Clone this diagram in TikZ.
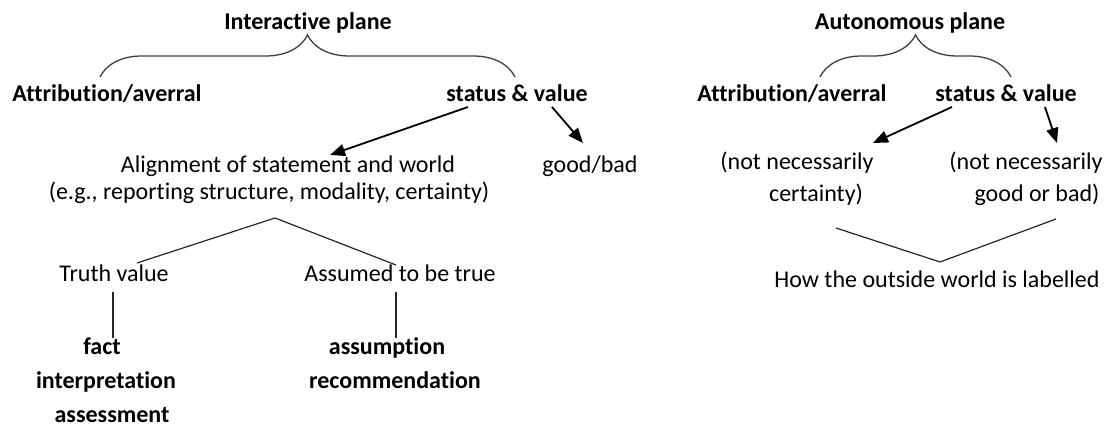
\documentclass[tikz,border=0pt]{standalone}
\usepackage{fontspec}
\setmainfont{Carlito}[Ligatures=NoCommon]
\usetikzlibrary{arrows.meta,decorations.pathreplacing}
\tikzset{
  txt/.style={inner sep=0pt,anchor=base,font=\fontsize{24pt}{28pt}\selectfont},
  bold/.style={txt,font=\fontsize{24pt}{28pt}\selectfont\bfseries},
  arr/.style={-{Triangle[length=15pt,width=12pt]},line width=1.8pt},
  ln/.style={line width=1.2pt,black!85},
  brc/.style={decorate,decoration={brace,amplitude=42pt,aspect=0.5},line width=1.3pt,black!75}
}
\begin{document}
\begin{tikzpicture}[x=1pt,y=1pt]
\useasboundingbox (0,0) rectangle (1107,427);
%interactive plane
\node[bold] (ip) at (308,397) {Interactive plane};
\node[bold] (at1) at (107,325) {Attribution/averral};
\node[bold] (sv1) at (517,325) {status \& value};
\draw[brc] ([shift={(-7,25)}]at1.base) -- ([shift={(-2,25)}]sv1.base);
\node[txt] (al) at (288,254) {Alignment of statement and world};
\node[txt] (eg) at (269,227) {(e.g., reporting structure, modality, certainty)};
\node[txt] (gb) at (590,254) {good/bad};
\draw[arr] ([shift={(-49,-5)}]sv1.base) -- ([shift={(42,18)}]al.base);
\draw[arr] ([shift={(35,-5)}]sv1.base) -- ([shift={(-7,30)}]gb.base);
%truth / assumed
\node[txt] (tv) at (114,145) {Truth value};
\node[txt] (as) at (400,145) {Assumed to be true};
\draw[ln] ([shift={(23,19)}]tv.base) -- ([shift={(6,-18)}]eg.base) -- ([shift={(-4,17)}]as.base);
\node[bold] (fa) at (102,72) {fact};
\node[bold] (in) at (106,38) {interpretation};
\node[bold] (ass) at (112,4) {assessment};
\node[bold] (au) at (387,72) {assumption};
\node[bold] (re) at (395,38) {recommendation};
\draw[ln] ([shift={(-1,-10)}]tv.base) -- ([shift={(11,17)}]fa.base);
\draw[ln] ([shift={(-4,-10)}]as.base) -- ([shift={(9,17)}]au.base);
%autonomous plane
\node[bold] (ap) at (910,397) {Autonomous plane};
\node[bold] (at2) at (792,325) {Attribution/averral};
\node[bold] (sv2) at (1006,325) {status \& value};
\draw[brc] ([shift={(28,25)}]at2.base) -- ([shift={(5,25)}]sv2.base);
\node[txt] (nn1) at (797,257) {(not necessarily};
\node[txt] (ce) at (816,225) {certainty)};
\node[txt] (nn2) at (1026,257) {(not necessarily};
\node[txt] (gob) at (1037,225) {good or bad)};
\draw[arr] ([shift={(-54,-5)}]sv2.base) -- ([shift={(76,27)}]nn1.base);
\draw[arr] ([shift={(39,-5)}]sv2.base) -- ([shift={(31,27)}]nn2.base);
\node[txt] (hw) at (937,139) {How the outside world is labelled};
\draw[ln] ([shift={(20,-26)}]ce.base) -- ([shift={(3,26)}]hw.base) -- ([shift={(19,-17)}]gob.base);
\end{tikzpicture}
\end{document}
